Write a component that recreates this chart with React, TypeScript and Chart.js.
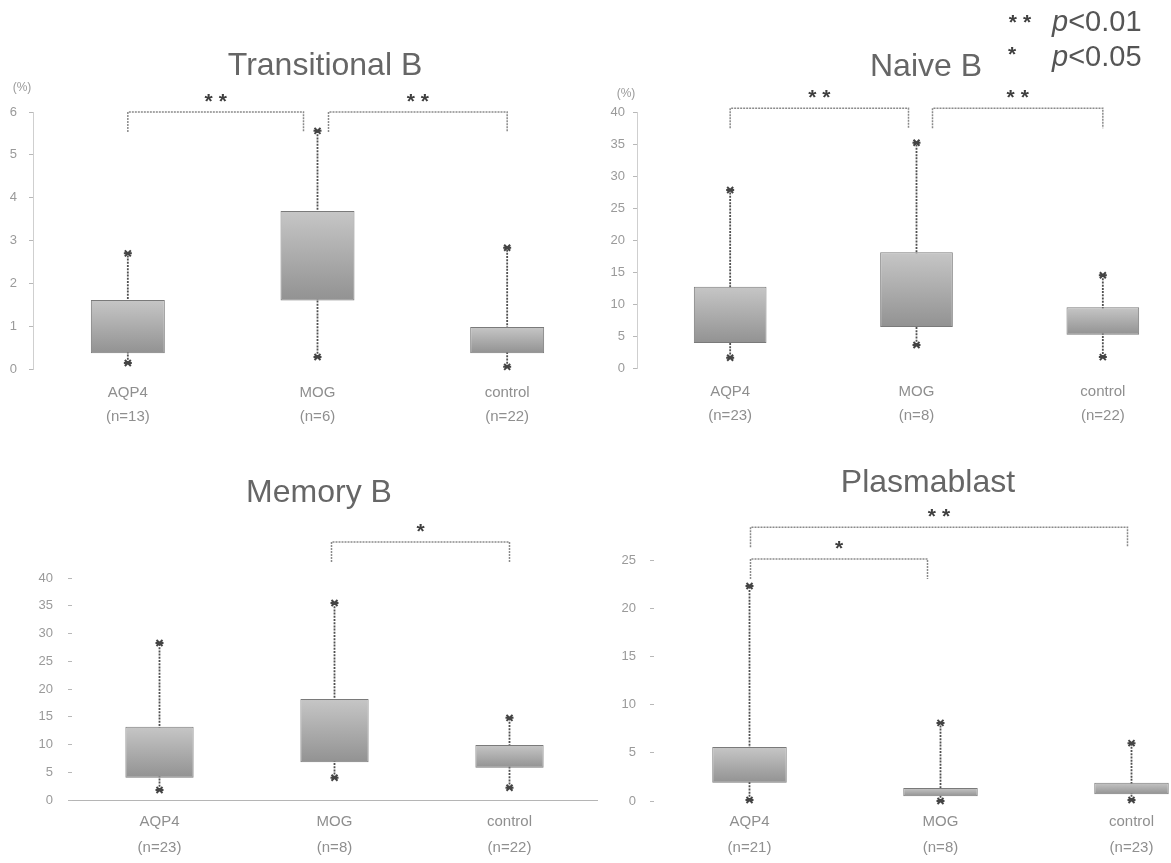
import React, { useEffect, useRef } from 'react';
import { Chart, registerables } from 'chart.js';

Chart.register(...registerables);

const FONT = '"Liberation Sans", Arial, Helvetica, sans-serif';

const groups = ['AQP4', 'MOG', 'control'];

// Transitional B (%)
const transN = ['(n=13)', '(n=6)', '(n=22)'];
const transMin = [0.14, 0.28, 0.05];
const transQ1 = [0.37, 1.6, 0.37];
const transQ3 = [1.61, 3.69, 0.98];
const transMax = [2.7, 5.56, 2.83];
const transTicks = [0, 1, 2, 3, 4, 5, 6];
const transSigFrom = [0, 1];
const transSigTo = [1, 2];
const transSigLevel = [6.0, 6.0];
const transSigMark = ['**', '**'];

// Naive B (%)
const naiveN = ['(n=23)', '(n=8)', '(n=22)'];
const naiveMin = [1.6, 3.6, 1.7];
const naiveQ1 = [3.9, 6.4, 5.2];
const naiveQ3 = [12.7, 18.1, 9.5];
const naiveMax = [27.8, 35.2, 14.5];
const naiveTicks = [0, 5, 10, 15, 20, 25, 30, 35, 40];
const naiveSigFrom = [0, 1];
const naiveSigTo = [1, 2];
const naiveSigLevel = [40.6, 40.6];
const naiveSigMark = ['**', '**'];

// Memory B (%)
const memoryN = ['(n=23)', '(n=8)', '(n=22)'];
const memoryMin = [1.8, 4.0, 2.2];
const memoryQ1 = [4.0, 6.8, 5.8];
const memoryQ3 = [13.2, 18.2, 9.9];
const memoryMax = [28.3, 35.5, 14.8];
const memoryTicks = [0, 5, 10, 15, 20, 25, 30, 35, 40];
const memorySigFrom = [1];
const memorySigTo = [2];
const memorySigLevel = [46.5];
const memorySigMark = ['*'];

// Plasmablast (%)
const plasmaN = ['(n=21)', '(n=8)', '(n=23)'];
const plasmaMin = [0.1, 0.0, 0.1];
const plasmaQ1 = [1.9, 0.5, 0.7];
const plasmaQ3 = [5.6, 1.35, 1.9];
const plasmaMax = [22.3, 8.1, 6.0];
const plasmaTicks = [0, 5, 10, 15, 20, 25];
const plasmaSigFrom = [0, 0];
const plasmaSigTo = [1, 2];
const plasmaSigLevel = [25.1, 28.4];
const plasmaSigMark = ['*', '**'];

// significance legend
const legendMarks = ['**', '*'];
const legendTexts = ['<0.01', '<0.05'];

type PanelCfg = {
  key: string;
  title: string;
  n: string[];
  min: number[];
  q1: number[];
  q3: number[];
  max: number[];
  ticks: number[];
  sigFrom: number[];
  sigTo: number[];
  sigLevel: number[];
  sigMark: string[];
  // layout / style
  l: number; t: number; w: number; h: number;
  pad: { top: number; right: number; bottom: number; left: number };
  yW: number; xH: number; yTickPad: number; xPad: number; xLine: number;
  titleX: number; titleY: number;
  unit?: [number, number];
  yBorder: boolean; xBorder: boolean;
  insets: [number, number][];
  legend?: boolean;
};

const panels: PanelCfg[] = [
  {
    key: 'trans', title: 'Transitional B', n: transN, min: transMin, q1: transQ1, q3: transQ3, max: transMax,
    ticks: transTicks, sigFrom: transSigFrom, sigTo: transSigTo, sigLevel: transSigLevel, sigMark: transSigMark,
    l: 0, t: 0, w: 605, h: 440, pad: { top: 112, right: 3, bottom: 11, left: 0 },
    yW: 33, xH: 60, yTickPad: 12, xPad: 12, xLine: 24, titleX: 325, titleY: 66.5, unit: [22, 88],
    yBorder: true, xBorder: false, insets: [[0, -14], [11, 0]],
  },
  {
    key: 'naive', title: 'Naive B', n: naiveN, min: naiveMin, q1: naiveQ1, q3: naiveQ3, max: naiveMax,
    ticks: naiveTicks, sigFrom: naiveSigFrom, sigTo: naiveSigTo, sigLevel: naiveSigLevel, sigMark: naiveSigMark,
    l: 605, t: 0, w: 600, h: 440, pad: { top: 112, right: 9, bottom: 12, left: 0 },
    yW: 32, xH: 60, yTickPad: 8, xPad: 12, xLine: 24, titleX: 321, titleY: 67.5, unit: [21, 94],
    yBorder: true, xBorder: false, insets: [[0, -8], [16, 0]], legend: true,
  },
  {
    key: 'memory', title: 'Memory B', n: memoryN, min: memoryMin, q1: memoryQ1, q3: memoryQ3, max: memoryMax,
    ticks: memoryTicks, sigFrom: memorySigFrom, sigTo: memorySigTo, sigLevel: memorySigLevel, sigMark: memorySigMark,
    l: 0, t: 440, w: 605, h: 423, pad: { top: 138, right: 8, bottom: 3, left: 0 },
    yW: 72, xH: 60, yTickPad: 15, xPad: 9, xLine: 26, titleX: 319, titleY: 53,
    yBorder: false, xBorder: true, insets: [[-3, 0]],
  },
  {
    key: 'plasma', title: 'Plasmablast', n: plasmaN, min: plasmaMin, q1: plasmaQ1, q3: plasmaQ3, max: plasmaMax,
    ticks: plasmaTicks, sigFrom: plasmaSigFrom, sigTo: plasmaSigTo, sigLevel: plasmaSigLevel, sigMark: plasmaSigMark,
    l: 605, t: 440, w: 630, h: 423, pad: { top: 120, right: 8, bottom: 2, left: 0 },
    yW: 49, xH: 60, yTickPad: 14, xPad: 8, xLine: 26, titleX: 323, titleY: 43,
    yBorder: false, xBorder: false, insets: [[1, -13], [1, -4]],
  },
];

function drawStars(ctx: CanvasRenderingContext2D, mark: string, cx: number, cy: number) {
  ctx.save();
  ctx.setLineDash([]);
  ctx.font = `bold 21px ${FONT}`;
  ctx.fillStyle = '#3f3f3f';
  ctx.textAlign = 'center';
  ctx.textBaseline = 'middle';
  const sp = 6;
  (ctx as any).letterSpacing = `${sp}px`;
  ctx.fillText(mark, cx + sp / 2, cy + 4.8);
  ctx.restore();
}

function BoxPanel({ cfg }: { cfg: PanelCfg }) {
  const ref = useRef<HTMLCanvasElement>(null);

  useEffect(() => {
    const canvas = ref.current;
    if (!canvas) return;
    const p = cfg;

    const overlay = {
      id: 'overlay_' + p.key,
      beforeDatasetsDraw(chart: any) {
        const { ctx } = chart;
        const x = chart.scales.x;
        const y = chart.scales.y;
        ctx.save();
        ctx.strokeStyle = '#505050';
        ctx.lineWidth = 1.8;
        ctx.setLineDash([2, 1.2]);
        p.min.forEach((lo: number, i: number) => {
          const px = x.getPixelForValue(i);
          const yl = y.getPixelForValue(lo);
          const yh = y.getPixelForValue(p.max[i]);
          ctx.beginPath();
          ctx.moveTo(px, yl);
          ctx.lineTo(px, yh);
          ctx.stroke();
        });
        ctx.setLineDash([]);
        ctx.lineWidth = 2;
        ctx.strokeStyle = '#444';
        p.min.forEach((lo: number, i: number) => {
          const px = x.getPixelForValue(i);
          [lo, p.max[i]].forEach((v) => {
            const py = y.getPixelForValue(v);
            ctx.beginPath();
            ctx.moveTo(px - 4, py);
            ctx.lineTo(px + 4, py);
            ctx.moveTo(px - 3, py - 3);
            ctx.lineTo(px + 3, py + 3);
            ctx.moveTo(px + 3, py - 3);
            ctx.lineTo(px - 3, py + 3);
            ctx.stroke();
          });
        });
        ctx.restore();
      },
      afterDraw(chart: any) {
        const { ctx } = chart;
        const x = chart.scales.x;
        const y = chart.scales.y;
        ctx.save();
        // title
        ctx.font = `32px ${FONT}`;
        ctx.fillStyle = '#666666';
        ctx.textAlign = 'center';
        ctx.textBaseline = 'middle';
        ctx.fillText(p.title, p.titleX, p.titleY);
        // unit label
        if (p.unit) {
          ctx.font = `12px ${FONT}`;
          ctx.fillStyle = '#9a9a9a';
          ctx.fillText('(%)', p.unit[0], p.unit[1]);
        }
        // significance brackets
        ctx.strokeStyle = '#8a8a8a';
        ctx.lineWidth = 1.5;
        ctx.setLineDash([2, 1]);
        p.sigFrom.forEach((f: number, k: number) => {
          const x1 = x.getPixelForValue(f) + p.insets[k][0];
          const x2 = x.getPixelForValue(p.sigTo[k]) + p.insets[k][1];
          const yy = y.getPixelForValue(p.sigLevel[k]);
          ctx.beginPath();
          ctx.moveTo(x1, yy + 20);
          ctx.lineTo(x1, yy);
          ctx.lineTo(x2, yy);
          ctx.lineTo(x2, yy + 20);
          ctx.stroke();
          drawStars(ctx, p.sigMark[k], (x1 + x2) / 2, yy - 15);
        });
        ctx.setLineDash([]);
        // legend
        if (p.legend) {
          const starX = [415, 407];
          const rowY = [23, 58];
          const starY = [18, 50];
          legendMarks.forEach((m, k) => {
            drawStars(ctx, m, starX[k], starY[k]);
            const lx = 447;
            ctx.textAlign = 'left';
            ctx.textBaseline = 'middle';
            ctx.fillStyle = '#555';
            ctx.font = `italic 29px ${FONT}`;
            ctx.fillText('p', lx, rowY[k]);
            const wp = ctx.measureText('p').width;
            ctx.font = `29px ${FONT}`;
            ctx.fillText(legendTexts[k], lx + wp, rowY[k]);
          });
        }
        ctx.restore();
      },
    };

    const chart = new Chart(canvas, {
      type: 'bar',
      data: {
        labels: groups.map((g, i) => [g, p.n[i]]),
        datasets: [
          {
            data: p.q1.map((v, i) => [v, p.q3[i]]) as any,
            backgroundColor: (c: any) => {
              const ch = c.chart;
              const ys = ch.scales && ch.scales.y;
              if (!ys || c.dataIndex === undefined) return '#a8a8a8';
              const top = ys.getPixelForValue(p.q3[c.dataIndex]);
              const bot = ys.getPixelForValue(p.q1[c.dataIndex]);
              if (!isFinite(top) || !isFinite(bot) || top === bot) return '#a8a8a8';
              const g = ch.ctx.createLinearGradient(0, top, 0, bot);
              g.addColorStop(0, '#c6c6c6');
              g.addColorStop(1, '#929292');
              return g;
            },
            borderColor: '#7a7a7a',
            borderWidth: 1,
            borderSkipped: false,
            barPercentage: 0.39,
            categoryPercentage: 1,
          },
        ],
      },
      options: {
        responsive: false,
        animation: false,
        devicePixelRatio: 1,
        layout: { padding: p.pad },
        plugins: { legend: { display: false }, tooltip: { enabled: false }, title: { display: false } },
        scales: {
          x: {
            offset: true,
            grid: { display: false, drawTicks: false },
            border: { display: p.xBorder, color: '#b5b5b5', dash: [2, 3], width: 1 },
            ticks: {
              padding: p.xPad,
              color: '#8f8f8f',
              font: { family: FONT, size: 15, lineHeight: `${p.xLine}px` as any },
              maxRotation: 0,
              autoSkip: false,
            },
            afterFit: (s: any) => { s.height = p.xH; },
          },
          y: {
            min: 0,
            max: p.ticks[p.ticks.length - 1],
            afterBuildTicks: (s: any) => { s.ticks = p.ticks.map((v) => ({ value: v })); },
            grid: { display: true, drawOnChartArea: false, drawTicks: true, tickLength: 4, color: '#b8b8b8' },
            border: { display: p.yBorder, color: '#cfcfcf', dash: [1, 3], width: 1 },
            ticks: { padding: p.yTickPad, color: '#9a9a9a', font: { family: FONT, size: 13 } },
            afterFit: (s: any) => { s.width = p.yW; },
          },
        },
      },
      plugins: [overlay],
    });

    return () => chart.destroy();
  }, [cfg]);

  return (
    <canvas
      ref={ref}
      width={cfg.w}
      height={cfg.h}
      style={{ position: 'absolute', left: cfg.l, top: cfg.t, width: cfg.w, height: cfg.h }}
    />
  );
}

export default function App() {
  return (
    <div
      style={{
        position: 'absolute',
        left: 0,
        top: 0,
        width: 1171,
        height: 863,
        overflow: 'hidden',
        background: '#ffffff',
      }}
    >
      {panels.map((p) => (
        <BoxPanel key={p.key} cfg={p} />
      ))}
    </div>
  );
}
